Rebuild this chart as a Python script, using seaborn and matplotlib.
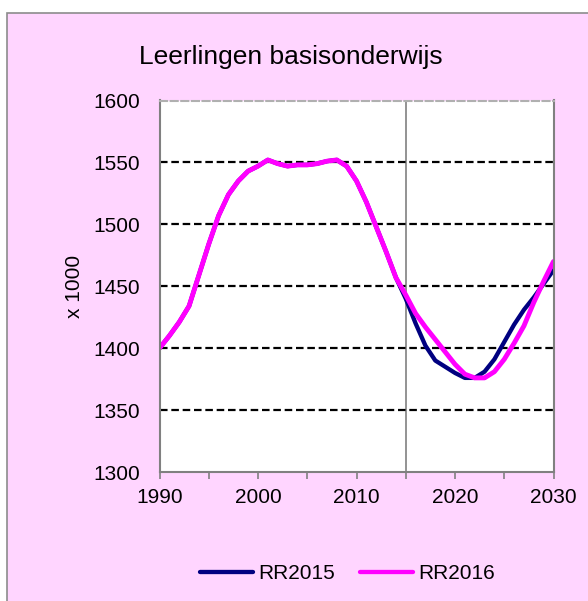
import pandas as pd
import matplotlib.pyplot as plt
import matplotlib.patches as patches
from matplotlib.ticker import MultipleLocator
import seaborn as sns

# Leerlingen basisonderwijs (x 1000), 1990-2030
years = list(range(1990, 2031))

rr2016 = [1400, 1410, 1421, 1434, 1459, 1484, 1507, 1524, 1535, 1543,
          1547, 1552, 1549, 1547, 1548, 1548, 1549, 1551, 1552, 1547,
          1535, 1518, 1498, 1478, 1457, 1443, 1428, 1417, 1407, 1397,
          1387, 1379, 1376, 1376, 1381, 1391, 1404, 1418, 1437, 1454,
          1470]

rr2015 = [1400, 1410, 1421, 1434, 1459, 1484, 1507, 1524, 1535, 1543,
          1547, 1552, 1549, 1547, 1548, 1548, 1549, 1551, 1552, 1547,
          1535, 1518, 1498, 1478, 1457, 1440, 1420, 1402, 1390, 1385,
          1380, 1376, 1376, 1381, 1391, 1405, 1419, 1431, 1441, 1452,
          1463]

series_names = ['RR2015', 'RR2016']
colors = {'RR2015': '#000080', 'RR2016': '#FF00FF'}

sns.set_style('white')
plt.rcParams['font.family'] = ['Liberation Sans', 'DejaVu Sans']
plt.rcParams['text.color'] = 'black'
plt.rcParams['axes.labelcolor'] = 'black'
plt.rcParams['xtick.color'] = 'black'
plt.rcParams['ytick.color'] = 'black'

df = pd.DataFrame({
    'jaar': years * 2,
    'leerlingen': rr2015 + rr2016,
    'reeks': ['RR2015'] * len(years) + ['RR2016'] * len(years),
})

fig = plt.figure(figsize=(5.88, 6.01), dpi=100, facecolor='white')

# pink chart area with grey frame
fig.patches.append(patches.Rectangle((7 / 588, -0.1), 1.2, 1 - 13 / 601 + 0.1,
                                     transform=fig.transFigure, facecolor='#FFD5FF',
                                     edgecolor='#8c8c8c', linewidth=1.2, zorder=-10))

ax = fig.add_axes([159.5 / 588, 1 - 472 / 601, 394 / 588, 371.5 / 601])
ax.set_facecolor('white')

sns.lineplot(data=df, x='jaar', y='leerlingen', hue='reeks', hue_order=series_names,
             palette=colors, linewidth=3.1, ax=ax, legend=True)
ax.get_lines()[1].set_linewidth(3.5)

ax.axvline(2015, color='#808080', linewidth=1.2, zorder=1)
for yv in [1350, 1400, 1450, 1500, 1550]:
    ax.axhline(yv, color='black', linewidth=1.6, linestyle=(0, (3.4, 1.7)), zorder=1)

ax.set_xlim(1990, 2030)
ax.set_ylim(1300, 1600)
ax.xaxis.set_major_locator(MultipleLocator(10))
ax.xaxis.set_minor_locator(MultipleLocator(5))
ax.yaxis.set_major_locator(MultipleLocator(50))
ax.tick_params(axis='x', which='both', direction='out', length=5, width=1.2,
               color='#808080', labelcolor='black', labelsize=15, pad=6.5, bottom=True)
ax.tick_params(axis='y', length=0, labelsize=15, pad=14)

for side in ['left', 'bottom', 'right']:
    ax.spines[side].set_color('#808080')
    ax.spines[side].set_linewidth(1.5)
ax.spines['top'].set_color('#b0b0b0')
ax.spines['top'].set_linestyle((0, (3.4, 1.7)))
ax.spines['top'].set_linewidth(1.5)

ax.set_xlabel('')
ax.set_ylabel('x 1000', fontsize=15, labelpad=7)

fig.text(0.495, 1 - 57 / 601, 'Leerlingen basisonderwijs', ha='center', va='center',
         fontsize=19)

handles, labels = ax.get_legend_handles_labels()
ax.legend_.remove()
leg = fig.legend(handles, labels, loc='center', bbox_to_anchor=(0.591, 0.045),
                 ncol=2, frameon=False, fontsize=15, handlelength=2.55,
                 handletextpad=0.24, columnspacing=1.2)
for line in leg.get_lines():
    line.set_linewidth(3.1)

fig.savefig('out.png', dpi=100, facecolor='white')
